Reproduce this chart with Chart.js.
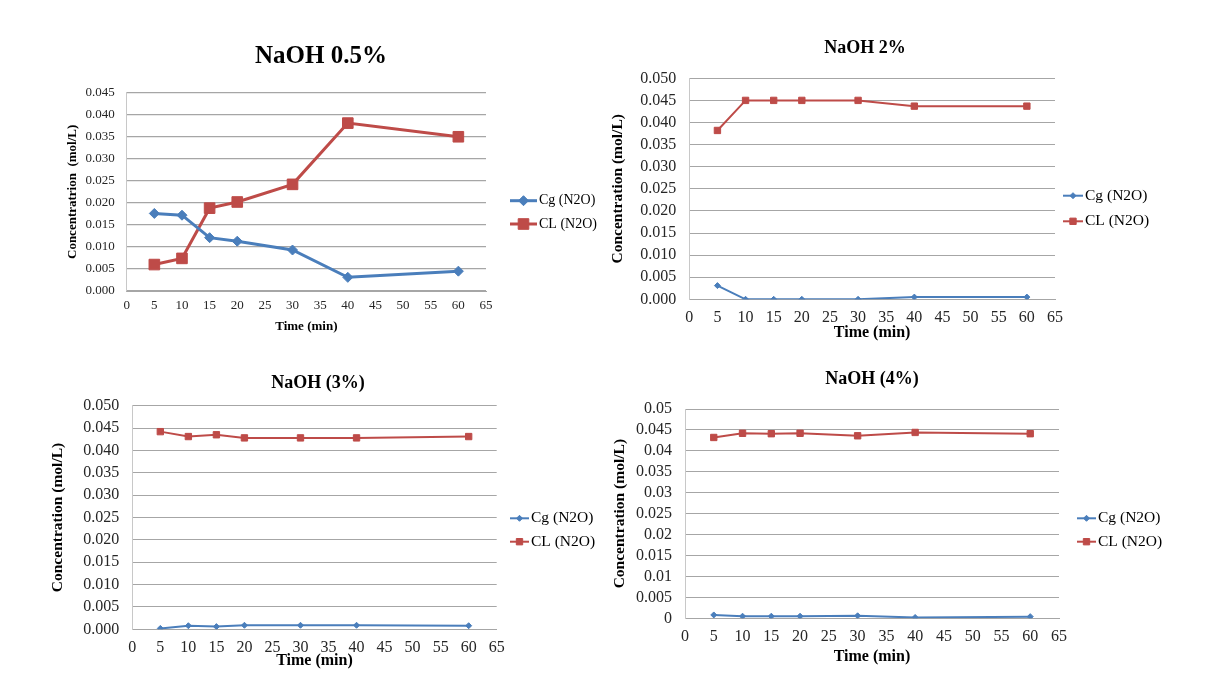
<!DOCTYPE html>
<html>
<head>
<meta charset="utf-8">
<title>NaOH N2O concentration</title>
<script src="https://cdn.jsdelivr.net/npm/chart.js@4.4.1/dist/chart.umd.min.js"></script>
<style>
    html, body { margin: 0; padding: 0; background: #ffffff; }
    body { width: 1222px; height: 685px; position: relative; overflow: hidden; }
    canvas { position: absolute; }
</style>
</head>
<body>
<canvas id="c1"></canvas>
<canvas id="c2"></canvas>
<canvas id="c3"></canvas>
<canvas id="c4"></canvas>
<script>
// Dados
const times = [5, 10, 15, 20, 30, 40, 60];

const cg05 = [0.0176, 0.0172, 0.0121, 0.0113, 0.0093, 0.0031, 0.0045];
const cl05 = [0.0060, 0.0074, 0.0188, 0.0202, 0.0242, 0.0381, 0.0350];

const cg2 = [0.0031, 0.0000, 0.0000, 0.0000, 0.0000, 0.0005, 0.0005];
const cl2 = [0.0382, 0.0450, 0.0450, 0.0450, 0.0450, 0.0437, 0.0437];

const cg3 = [0.0002, 0.0008, 0.0006, 0.0009, 0.0009, 0.0009, 0.0008];
const cl3 = [0.0442, 0.0431, 0.0435, 0.0428, 0.0428, 0.0428, 0.0431];

const cg4 = [0.0008, 0.0005, 0.0005, 0.0005, 0.0006, 0.0002, 0.0004];
const cl4 = [0.0432, 0.0442, 0.0441, 0.0442, 0.0436, 0.0444, 0.0441];

const seriesLabels = ['Cg (N2O)', 'CL (N2O)'];
const chartTitles = ['NaOH 0.5%', 'NaOH 2%', 'NaOH (3%)', 'NaOH (4%)'];
const yTitles = ['Concentratrion  (mol/L)', 'Concentration (mol/L)', 'Concentration (mol/L)', 'Concentration (mol/L)'];
const xTitle = 'Time (min)';
const xMin = 0, xMax = 65, xStep = 5;
const yMaxes = [0.045, 0.05, 0.05, 0.05];
const yStep = 0.005;
const yDecimals = [3, 3, 3, null];

// Cores (estilo Excel)
const colors = {
    blue: '#4a7ebb',
    red: '#be4b48',
    grid: '#a6a6a6',
    axis: '#c8c8c8',
    text: '#262626'
};
const family = "'Liberation Serif', 'Times New Roman', serif";
Chart.defaults.font.family = family;
Chart.defaults.color = colors.text;

// Posições de cada painel (pixels da página)
const layouts = [
    {
        box: { x: 30, y: 20, w: 575, h: 330 },
        plot: { l: 126.7, r: 486, t: 92.7, b: 291 },
        title: { x: 321, y: 57, size: 25 },
        yTitle: { x: 73, size: 13 },
        xTitle: { y: 327, size: 13 },
        tickSize: 13, yTickGap: 12, xTickY: 306,
        legend: { x: 510, len: 27, y: [200.7, 224], size: 14 },
        lineWidth: 3, radius: [5, 7.5], gridWidth: 1.3
    },
    {
        box: { x: 605, y: 20, w: 575, h: 330 },
        plot: { l: 689.3, r: 1055, t: 78.3, b: 299.3 },
        title: { x: 865, y: 48, size: 18 },
        yTitle: { x: 618.3, size: 15.5 },
        xTitle: { y: 333, size: 16 },
        tickSize: 16, yTickGap: 13, xTickY: 318,
        legend: { x: 1063, len: 20, y: [195.7, 221.3], size: 15.5 },
        lineWidth: 2, radius: [3, 4.5], gridWidth: 1
    },
    {
        box: { x: 30, y: 355, w: 575, h: 325 },
        plot: { l: 132.3, r: 496.7, t: 405.7, b: 629.3 },
        title: { x: 318, y: 383, size: 18 },
        yTitle: { x: 58.3, size: 15.5 },
        xTitle: { y: 661, size: 16 },
        tickSize: 16, yTickGap: 13, xTickY: 648,
        legend: { x: 510, len: 19, y: [518.3, 541.7], size: 15.5 },
        lineWidth: 2, radius: [3, 4.5], gridWidth: 1
    },
    {
        box: { x: 605, y: 355, w: 575, h: 325 },
        plot: { l: 685, r: 1059, t: 409, b: 618.3 },
        title: { x: 872, y: 379, size: 18 },
        yTitle: { x: 620, size: 15.5 },
        xTitle: { y: 657, size: 16 },
        tickSize: 16, yTickGap: 13, xTickY: 637,
        legend: { x: 1077, len: 19, y: [518.3, 541.7], size: 15.5 },
        lineWidth: 2, radius: [3, 4.5], gridWidth: 1
    }
];

// Título e legenda desenhados no canvas
const excelDecor = {
    id: 'excelDecor',
    afterDraw(chart, args, opts) {
        const ctx = chart.ctx;
        ctx.save();
        ctx.fillStyle = '#000';
        ctx.textAlign = 'center';
        ctx.textBaseline = 'middle';
        ctx.font = 'bold ' + opts.titleSize + 'px ' + family;
        ctx.fillText(opts.title, opts.titleX, opts.titleY);

        chart.data.datasets.forEach((ds, i) => {
            const y = opts.legendY[i];
            const x0 = opts.legendX;
            ctx.strokeStyle = ds.borderColor;
            ctx.lineWidth = ds.borderWidth;
            ctx.beginPath();
            ctx.moveTo(x0, y);
            ctx.lineTo(x0 + opts.legendLen, y);
            ctx.stroke();
            ctx.fillStyle = ds.pointBackgroundColor;
            ctx.strokeStyle = ds.pointBorderColor;
            ctx.lineWidth = 1;
            Chart.helpers.drawPoint(ctx, {
                pointStyle: ds.pointStyle, radius: ds.pointRadius, rotation: 0, borderWidth: 1
            }, x0 + opts.legendLen / 2, y);
            ctx.fillStyle = '#000';
            ctx.textAlign = 'left';
            ctx.font = opts.legendSize + 'px ' + family;
            ctx.fillText(ds.label, x0 + opts.legendLen + 2, y);
        });
        ctx.restore();
    }
};

function toPoints(values) {
    return times.map((t, i) => ({ x: t, y: values[i] }));
}

function createPanel(idx, cg, cl) {
    const L = layouts[idx];
    const canvas = document.getElementById('c' + (idx + 1));
    canvas.width = L.box.w;
    canvas.height = L.box.h;
    canvas.style.left = L.box.x + 'px';
    canvas.style.top = L.box.y + 'px';

    const yLH = L.yTitle.size * 1.2;
    const xLH = L.xTitle.size * 1.2;
    const padL = L.yTitle.x - L.box.x - yLH / 2;
    const yAxisW = L.plot.l - L.box.x - padL;
    const padT = L.plot.t - L.box.y;
    const padR = L.box.x + L.box.w - L.plot.r;
    const xAxisH = L.xTitle.y - L.plot.b + xLH / 2;
    const padB = L.box.y + L.box.h - L.plot.b - xAxisH;
    const xTickPad = L.xTickY - L.plot.b - L.tickSize * 0.6;
    const dec = yDecimals[idx];

    new Chart(canvas, {
        type: 'line',
        data: {
            datasets: [{
                label: seriesLabels[0],
                data: toPoints(cg),
                borderColor: colors.blue,
                backgroundColor: colors.blue,
                pointBackgroundColor: colors.blue,
                pointBorderColor: colors.blue,
                pointStyle: 'rectRot',
                pointRadius: L.radius[0],
                pointBorderWidth: 1,
                borderWidth: L.lineWidth,
                tension: 0
            }, {
                label: seriesLabels[1],
                data: toPoints(cl),
                borderColor: colors.red,
                backgroundColor: colors.red,
                pointBackgroundColor: colors.red,
                pointBorderColor: colors.red,
                pointStyle: 'rect',
                pointRadius: L.radius[1],
                pointBorderWidth: 1,
                borderWidth: L.lineWidth,
                tension: 0
            }]
        },
        options: {
            responsive: false,
            animation: false,
            layout: { padding: { left: padL, right: padR, top: padT, bottom: padB } },
            plugins: {
                legend: { display: false },
                title: { display: false },
                tooltip: { enabled: false },
                excelDecor: {
                    title: chartTitles[idx],
                    titleSize: L.title.size,
                    titleX: L.title.x - L.box.x,
                    titleY: L.title.y - L.box.y,
                    legendX: L.legend.x - L.box.x,
                    legendY: L.legend.y.map(v => v - L.box.y),
                    legendLen: L.legend.len,
                    legendSize: L.legend.size
                }
            },
            scales: {
                x: {
                    type: 'linear',
                    min: xMin,
                    max: xMax,
                    grid: { display: false, drawTicks: false },
                    border: { display: true, color: colors.grid, width: 1 },
                    ticks: {
                        stepSize: xStep,
                        padding: xTickPad,
                        maxRotation: 0,
                        autoSkip: false,
                        font: { size: L.tickSize }
                    },
                    title: {
                        display: true,
                        text: xTitle,
                        padding: 0,
                        color: '#000',
                        font: { size: L.xTitle.size, weight: 'bold' }
                    },
                    afterFit: scale => { scale.height = xAxisH; }
                },
                y: {
                    min: 0,
                    max: yMaxes[idx],
                    grid: { color: colors.grid, lineWidth: L.gridWidth, drawTicks: false },
                    border: { display: true, color: colors.axis, width: 1 },
                    ticks: {
                        stepSize: yStep,
                        padding: L.yTickGap,
                        autoSkip: false,
                        font: { size: L.tickSize },
                        callback: v => dec === null ? String(parseFloat(v.toFixed(3))) : v.toFixed(dec)
                    },
                    title: {
                        display: true,
                        text: yTitles[idx],
                        padding: 0,
                        color: '#000',
                        font: { size: L.yTitle.size, weight: 'bold' }
                    },
                    afterFit: scale => { scale.width = yAxisW; }
                }
            }
        },
        plugins: [excelDecor]
    });
}

// Inicialização
createPanel(0, cg05, cl05);
createPanel(1, cg2, cl2);
createPanel(2, cg3, cl3);
createPanel(3, cg4, cl4);
</script>
</body>
</html>
